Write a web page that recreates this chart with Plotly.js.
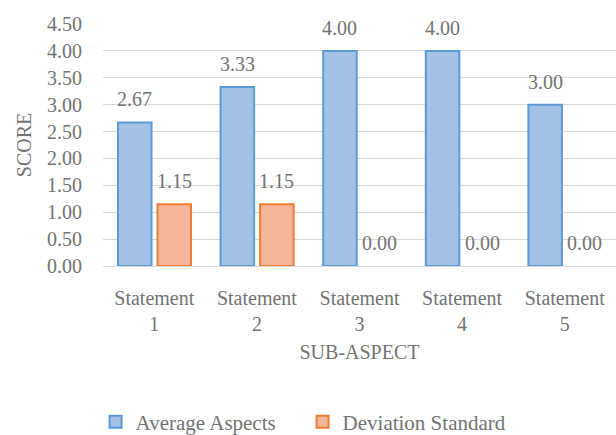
<!DOCTYPE html>
<html>
<head>
<meta charset="utf-8">
<script src="https://cdn.plot.ly/plotly-3.0.1.min.js"></script>
<style>html,body{margin:0;padding:0;background:#fff;}#chart{width:616px;height:435px;}</style>
</head>
<body>
<div id="chart"></div>
<script>
const categories = ["Statement<br>1", "Statement<br>2", "Statement<br>3", "Statement<br>4", "Statement<br>5"];
const averageAspects = [2.67, 3.33, 4.00, 4.00, 3.00];
const deviationStandard = [1.15, 1.15, 0.00, 0.00, 0.00];
const yTicks = [0, 0.5, 1, 1.5, 2, 2.5, 3, 3.5, 4, 4.5];

const FONT = "Liberation Serif, Times New Roman, serif";
const TXT = "#737373";
const FS = 20;

const xIdx = categories.map((c, i) => i);
const BW = 0.327;
const OFF_A = -0.354, OFF_D = 0.031;

function barTrace(name, vals, off, fill, edge) {
  return {
    type: "bar", name: name, x: xIdx, y: vals, width: BW, offset: off,
    hoverinfo: "none",
    marker: {color: fill, line: {color: edge, width: vals.map(v => v === 0 ? 0 : 2)}}
  };
}

const traces = [
  barTrace("Average Aspects", averageAspects, OFF_A, "#a3c1e6", "#5b9bd5"),
  barTrace("Deviation Standard", deviationStandard, OFF_D, "#f6b699", "#ed7d31")
];

const annotations = [];
[[averageAspects, OFF_A], [deviationStandard, OFF_D]].forEach(([vals, off]) => {
  vals.forEach((v, i) => {
    annotations.push({
      x: i + off + BW / 2, y: v, xref: "x", yref: "y",
      text: v.toFixed(2), showarrow: false, yanchor: "middle", xanchor: "center",
      yshift: 23, font: {family: FONT, size: FS, color: TXT}
    });
  });
});

const layout = {
  width: 616, height: 435,
  margin: {l: 103, r: 0, t: 24, b: 169, autoexpand: false},
  paper_bgcolor: "#fff", plot_bgcolor: "#fff",
  font: {family: FONT, size: FS, color: TXT},
  barmode: "overlay",
  showlegend: true,
  legend: {orientation: "h", x: 0.389, xanchor: "center", y: -0.645, yanchor: "middle",
           font: {family: FONT, size: 21, color: TXT}, itemwidth: 30, entrywidth: 162,
           traceorder: "normal"},
  annotations: annotations,
  xaxis: {
    range: [-0.5, categories.length - 0.5], tickvals: xIdx, ticktext: categories,
    showgrid: false, showline: true, linecolor: "#d9d9d9", linewidth: 1, zeroline: false,
    ticks: "", tickfont: {family: FONT, size: FS, color: TXT}, ticklabelstandoff: 14,
    title: {text: "SUB-ASPECT", font: {family: FONT, size: FS, color: TXT}, standoff: 10}
  },
  yaxis: {
    range: [0, 4.5], tickvals: yTicks, tickformat: ".2f", showgrid: true, gridcolor: "#d9d9d9",
    gridwidth: 1, zeroline: false, showline: false, ticks: "", ticklabelstandoff: 20,
    tickfont: {family: FONT, size: FS, color: TXT},
    title: {text: "SCORE", font: {family: FONT, size: FS, color: TXT}, standoff: 10}
  }
};

Plotly.newPlot("chart", traces, layout, {displayModeBar: false, staticPlot: true});
</script>
</body>
</html>
